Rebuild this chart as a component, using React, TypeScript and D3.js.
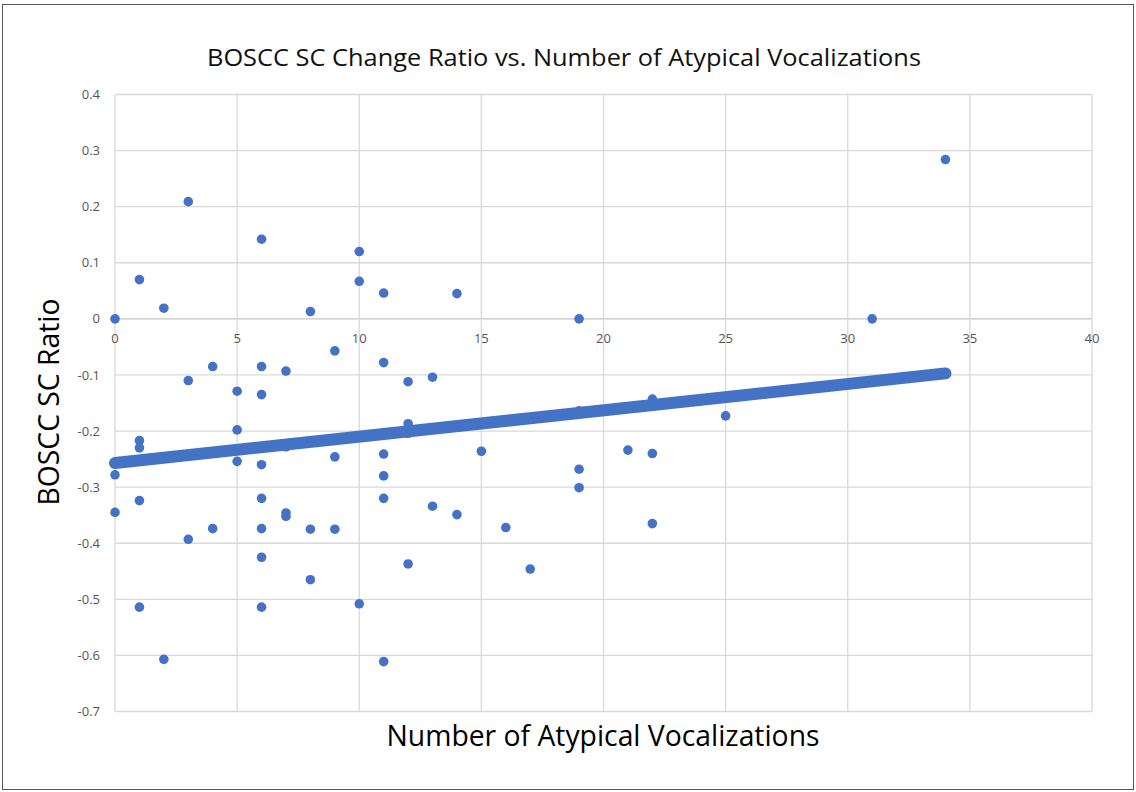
import React from "react";
import * as d3 from "d3";

// atypical vocalization counts and matching BOSCC SC change ratio
const vocalizations = [
  0, 0, 0,
  1, 1, 1, 1, 1,
  2, 2,
  3, 3, 3,
  4, 4,
  5, 5, 5,
  6, 6, 6, 6, 6, 6, 6, 6,
  7, 7, 7, 7,
  8, 8, 8,
  9, 9, 9,
  10, 10, 10,
  11, 11, 11, 11, 11, 11,
  12, 12, 12, 12,
  13, 13,
  14, 14,
  15, 16, 17,
  19, 19, 19, 19,
  21,
  22, 22, 22,
  25, 31, 34,
];
const scRatio = [
  0, -0.278, -0.345,
  0.07, -0.217, -0.23, -0.324, -0.514,
  0.019, -0.607,
  0.209, -0.11, -0.393,
  -0.085, -0.374,
  -0.129, -0.198, -0.254,
  0.142, -0.085, -0.135, -0.26, -0.32, -0.374, -0.425, -0.514,
  -0.093, -0.228, -0.346, -0.352,
  0.013, -0.375, -0.465,
  -0.057, -0.246, -0.375,
  0.12, 0.067, -0.508,
  0.046, -0.078, -0.241, -0.28, -0.32, -0.611,
  -0.112, -0.187, -0.204, -0.437,
  -0.104, -0.334,
  0.045, -0.349,
  -0.236, -0.372, -0.446,
  0, -0.164, -0.268, -0.301,
  -0.234,
  -0.143, -0.24, -0.365,
  -0.173, 0, 0.284,
];

// linear trendline as shown in the chart
const trendIntercept = -0.257;
const trendSlope = 0.0047;
const trendRange = [0, 34];

const xTicks = [0, 5, 10, 15, 20, 25, 30, 35, 40];
const yTicks = [0.4, 0.3, 0.2, 0.1, 0, -0.1, -0.2, -0.3, -0.4, -0.5, -0.6, -0.7];

const title = "BOSCC SC Change Ratio vs. Number of Atypical Vocalizations";
const xTitle = "Number of Atypical Vocalizations";
const yTitle = "BOSCC SC Ratio";

const W = 1136;
const H = 792;
const blue = "#4472C4";
const font = "'Open Sans', 'Noto Sans', sans-serif";

export default function App() {
  const x = d3.scaleLinear().domain([0, 40]).range([115, 1092]);
  const y = d3.scaleLinear().domain([-0.7, 0.4]).range([711.5, 94.5]);

  const points = vocalizations.map((v, i) => ({ v, r: scRatio[i] }));
  const trend = d3
    .line<number>()
    .x((d) => x(d))
    .y((d) => y(trendIntercept + trendSlope * d));

  // Excel style labels: plain hyphen, bare "0"
  const fmtY = (t: number) => (t === 0 ? "0" : t.toFixed(1));

  return (
    <svg
      width={W}
      height={H}
      style={{ position: "absolute", left: 0, top: 0, background: "#fff" }}
    >
      <rect x={2.5} y={4.5} width={1131} height={785} fill="#fff" stroke="#555" strokeWidth={1} />

      <text
        x={564}
        y={66}
        textAnchor="middle"
        fontFamily={font}
        fontSize={24}
        fill="#111"
        textLength={714}
        lengthAdjust="spacingAndGlyphs"
      >
        {title}
      </text>

      {/* gridlines */}
      <g stroke="#d9d9d9" strokeWidth={1.3}>
        {yTicks.map((t) => (
          <line key={"h" + t} x1={x(0)} x2={x(40)} y1={y(t)} y2={y(t)} stroke={t === 0 ? "#c4c4c4" : "#d9d9d9"} />
        ))}
        {xTicks.map((t) => (
          <line key={"v" + t} x1={x(t)} x2={x(t)} y1={y(0.4)} y2={y(-0.7)} />
        ))}
      </g>

      {/* y tick labels */}
      <g fontFamily={font} fontSize={13} fill="#555" textAnchor="end">
        {yTicks.map((t) => (
          <text key={"yl" + t} x={100} y={y(t)} dy="0.35em">
            {fmtY(t)}
          </text>
        ))}
      </g>

      {/* x tick labels sit under the zero line */}
      <g fontFamily={font} fontSize={13} fill="#555" textAnchor="middle">
        {xTicks.map((t) => (
          <text key={"xl" + t} x={x(t)} y={y(0) + 20} dy="0.35em">
            {t}
          </text>
        ))}
      </g>

      {/* points */}
      <g fill={blue}>
        {points.map((p, i) => (
          <circle key={i} cx={x(p.v)} cy={y(p.r)} r={4.8} />
        ))}
      </g>

      <path
        d={trend(trendRange) || ""}
        fill="none"
        stroke={blue}
        strokeWidth={12}
        strokeLinecap="round"
      />

      <text
        x={603}
        y={746}
        textAnchor="middle"
        fontFamily={font}
        fontSize={30}
        fill="#000"
        textLength={433}
        lengthAdjust="spacingAndGlyphs"
      >
        {xTitle}
      </text>
      <text
        transform={`translate(59, 402) rotate(-90)`}
        textAnchor="middle"
        fontFamily={font}
        fontSize={30}
        fill="#000"
        textLength={207}
        lengthAdjust="spacingAndGlyphs"
      >
        {yTitle}
      </text>
    </svg>
  );
}
